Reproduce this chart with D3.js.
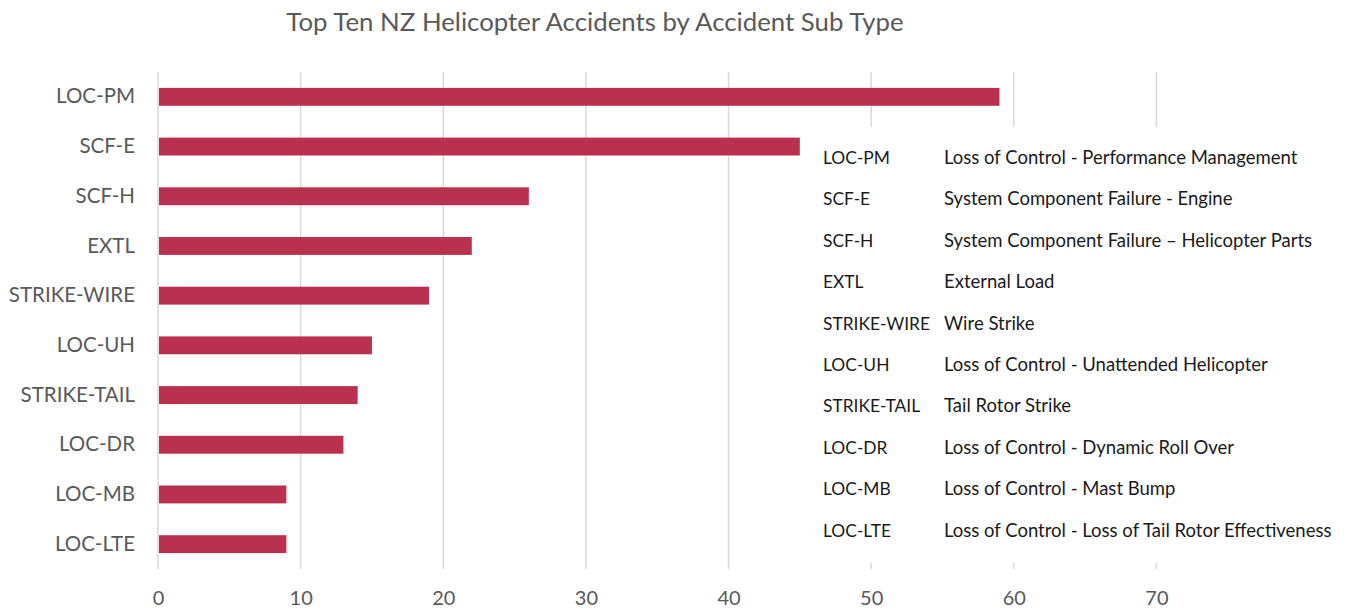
<!DOCTYPE html>
<html>
<head>
<meta charset="utf-8">
<script src="https://cdnjs.cloudflare.com/ajax/libs/d3/7.8.5/d3.min.js"></script>
<style>
  body { margin: 0; background: #fff; }
  text { font-family: Lato, "Open Sans", sans-serif; }
</style>
</head>
<body>
<div id="vis"></div>
<script>
var categories = ['LOC-PM', 'SCF-E', 'SCF-H', 'EXTL', 'STRIKE-WIRE', 'LOC-UH', 'STRIKE-TAIL', 'LOC-DR', 'LOC-MB', 'LOC-LTE'];
var counts = [59, 45, 26, 22, 19, 15, 14, 13, 9, 9];
var descriptions = [
	'Loss of Control - Performance Management',
	'System Component Failure - Engine',
	'System Component Failure \u2013 Helicopter Parts',
	'External Load',
	'Wire Strike',
	'Loss of Control - Unattended Helicopter',
	'Tail Rotor Strike',
	'Loss of Control - Dynamic Roll Over',
	'Loss of Control - Mast Bump',
	'Loss of Control - Loss of Tail Rotor Effectiveness'
];
var tickValues = [0, 10, 20, 30, 40, 50, 60, 70];

var width = 1348,
	height = 612;

var margin = { left: 158, top: 72, right: 49, bottom: 43 };
var drawWidth = width - margin.left - margin.right,
	drawHeight = height - margin.top - margin.bottom;

var data = categories.map(function(c, i) { return { cat: c, value: counts[i], desc: descriptions[i] }; });

var svg = d3.select('#vis')
	.append('svg')
	.attr('width', width)
	.attr('height', height);

var g = svg.append('g')
	.attr('transform', 'translate(' + margin.left + ',' + margin.top + ')');

var x = d3.scaleLinear()
	.domain([0, 80])
	.range([0, drawWidth]);

var y = d3.scaleBand()
	.domain(categories)
	.range([0, drawHeight])
	.paddingInner(0.64)
	.paddingOuter(0.32);

// gridlines
g.append('g')
	.selectAll('line')
	.data(tickValues)
	.enter().append('line')
	.attr('x1', function(d) { return x(d); })
	.attr('x2', function(d) { return x(d); })
	.attr('y1', 0)
	.attr('y2', drawHeight)
	.attr('stroke', '#d9d9d9')
	.attr('stroke-width', 1.5);

// bars
g.append('g')
	.selectAll('rect')
	.data(data)
	.enter().append('rect')
	.attr('x', x(0) + 1)
	.attr('y', function(d) { return y(d.cat); })
	.attr('width', function(d) { return x(d.value) - x(0) - 1; })
	.attr('height', y.bandwidth())
	.attr('fill', '#b9314f');

// x axis labels
var xAxis = g.append('g')
	.attr('transform', 'translate(0,' + drawHeight + ')')
	.call(d3.axisBottom(x).tickValues(tickValues).tickSize(0).tickPadding(22));
xAxis.select('.domain').remove();
xAxis.selectAll('text')
	.attr('font-size', 20)
	.attr('fill', '#595959');

// y axis labels
var yAxis = g.append('g')
	.call(d3.axisLeft(y).tickSize(0).tickPadding(23));
yAxis.select('.domain').remove();
yAxis.selectAll('text')
	.attr('font-size', 20.5)
	.attr('fill', '#595959');

// title
svg.append('text')
	.attr('x', 595)
	.attr('y', 31)
	.attr('text-anchor', 'middle')
	.attr('font-size', 25.8)
	.attr('fill', '#595959')
	.text('Top Ten NZ Helicopter Accidents by Accident Sub Type');

// legend box (covers gridlines)
var legend = svg.append('g')
	.attr('transform', 'translate(805,127)');

legend.append('rect')
	.attr('width', 543)
	.attr('height', 436)
	.attr('fill', '#fff');

var rows = legend.selectAll('g.row')
	.data(data)
	.enter().append('g')
	.attr('class', 'row')
	.attr('transform', function(d, i) { return 'translate(0,' + (37 + i * 41.4) + ')'; });

rows.append('text')
	.attr('x', 18)
	.attr('font-size', 17.4)
	.attr('fill', '#1a1a1a')
	.text(function(d) { return d.cat; });

rows.append('text')
	.attr('x', 139)
	.attr('font-size', 18.5)
	.attr('fill', '#1a1a1a')
	.text(function(d) { return d.desc; });
</script>
</body>
</html>
